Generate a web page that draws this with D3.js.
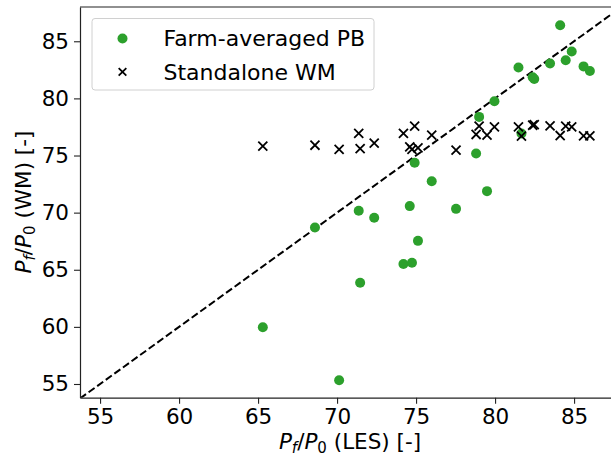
<!DOCTYPE html>
<html>
<head>
<meta charset="utf-8">
<script src="https://cdn.jsdelivr.net/npm/d3@7"></script>
<style>
  body { margin: 0; background: #fff; }
  text { font-family: "DejaVu Sans", sans-serif; }
</style>
</head>
<body>
<div id="chart"></div>
<script>
(function () {

// LES value (shared x) for each case
const les = [65.3, 68.6, 70.13, 71.37, 71.46, 72.35, 74.2, 74.6, 74.74, 74.91, 75.12,
  75.99, 77.53, 78.8, 78.99, 79.49, 79.96, 81.48, 81.67, 82.38, 82.48, 83.48,
  84.12, 84.47, 84.85, 85.6, 86.0];

// farm-averaged PB model (green dots)
const farmPB = [59.96, 68.7, 55.32, 70.16, 63.86, 69.55, 65.5, 70.57, 65.61, 74.36, 67.53,
  72.75, 70.33, 75.18, 78.38, 71.88, 79.75, 82.7, 76.93, 81.85, 81.7, 83.05,
  86.4, 83.34, 84.1, 82.8, 82.4];

// standalone wake model (black crosses)
const standaloneWM = [75.82, 75.9, 75.53, 76.93, 75.6, 76.08, 76.93, 75.76, 75.53, 77.57, 75.67,
  76.78, 75.47, 76.84, 77.57, 76.78, 77.5, 77.5, 76.69, 77.65, 77.7, 77.6,
  76.75, 77.57, 77.5, 76.72, 76.72];

const xTicks = [55, 60, 65, 70, 75, 80, 85];
const yTicks = [55, 60, 65, 70, 75, 80, 85];
const legendLabels = ["Farm-averaged PB", "Standalone WM"];

const green = "#2ca02c";
const fontSize = 21.5;

// margins, axes box is about 532 x 391
const margin = {top: 7, right: -1, bottom: 58, left: 80};
const width = 611 - margin.left - margin.right,
      height = 456 - margin.top - margin.bottom - 0.3;

const svg = d3.select("#chart").append("svg")
    .attr("width", 611)
    .attr("height", 456)
  .append("g")
    .attr("transform", "translate(" + margin.left + "," + margin.top + ")");

const x = d3.scaleLinear().domain([53.73, 87.4]).range([0, width]);
const y = d3.scaleLinear().domain([53.8, 88.0]).range([height, 0]);

svg.append("clipPath").attr("id", "clip")
  .append("rect").attr("width", width).attr("height", height);

// dashed y = x line
svg.append("line")
    .attr("clip-path", "url(#clip)")
    .attr("x1", x(53.73)).attr("y1", y(53.73))
    .attr("x2", x(88)).attr("y2", y(88))
    .attr("stroke", "#000")
    .attr("stroke-width", 2)
    .attr("stroke-dasharray", "7.4,3.2");

// green dots
svg.append("g")
  .selectAll("circle")
  .data(les)
  .join("circle")
    .attr("cx", d => x(d))
    .attr("cy", (d, i) => y(farmPB[i]))
    .attr("r", 5)
    .attr("fill", green);

// crosses
const cross = d3.symbol(d3.symbolTimes).size(55);
svg.append("g")
  .selectAll("path")
  .data(les)
  .join("path")
    .attr("transform", (d, i) => `translate(${x(d)},${y(standaloneWM[i])})`)
    .attr("d", cross)
    .attr("fill", "none")
    .attr("stroke", "#000")
    .attr("stroke-width", 1.8);

// axes
const xAxis = svg.append("g")
    .attr("transform", `translate(0,${height})`)
    .call(d3.axisBottom(x).tickValues(xTicks).tickSize(6).tickPadding(5).tickSizeOuter(0));
const yAxis = svg.append("g")
    .call(d3.axisLeft(y).tickValues(yTicks).tickSize(6).tickPadding(5).tickSizeOuter(0));

[xAxis, yAxis].forEach(g => {
  g.selectAll("text").attr("font-size", fontSize).attr("font-family", "DejaVu Sans").attr("fill", "#000");
  g.selectAll("line").attr("stroke", "#222").attr("stroke-width", 1.1);
  g.select(".domain").attr("stroke", "#222").attr("stroke-width", 1.2);
});
xAxis.selectAll("text").attr("dy", "0.72em");

// top spine
svg.append("line")
    .attr("x1", 0).attr("x2", width)
    .attr("y1", 0).attr("y2", 0)
    .attr("stroke", "#222").attr("stroke-width", 1.2);

// axis labels with P_f/P_0 math text
function mathLabel(sel, tail) {
  sel.append("tspan").attr("font-style", "italic").text("P");
  sel.append("tspan").attr("font-style", "italic").attr("font-size", 15).attr("dy", 4).text("f");
  sel.append("tspan").attr("dy", -4).text("/");
  sel.append("tspan").attr("font-style", "italic").text("P");
  sel.append("tspan").attr("font-size", 15).attr("dy", 4).text("0");
  sel.append("tspan").attr("dy", -4).text(tail);
}

svg.append("text")
    .attr("x", width / 2 + 4)
    .attr("y", height + 51)
    .attr("text-anchor", "middle")
    .attr("font-size", fontSize)
    .call(mathLabel, " (LES) [-]");

svg.append("text")
    .attr("transform", `translate(${31 - margin.left},${195}) rotate(-90)`)
    .attr("text-anchor", "middle")
    .attr("font-size", fontSize)
    .call(mathLabel, " (WM) [-]");

// legend
const legend = svg.append("g").attr("transform", "translate(12,11.5)");
legend.append("rect")
    .attr("width", 282).attr("height", 71.5)
    .attr("rx", 3)
    .attr("fill", "#fff").attr("fill-opacity", 0.8)
    .attr("stroke", "#d0d0d0").attr("stroke-width", 1);

const rows = legend.selectAll("g.row")
  .data(legendLabels)
  .join("g")
    .attr("class", "row")
    .attr("transform", (d, i) => `translate(0,${20 + i * 33.4})`);

rows.filter((d, i) => i === 0).append("circle")
    .attr("cx", 30.5).attr("r", 5).attr("fill", green);
rows.filter((d, i) => i === 1).append("path")
    .attr("transform", "translate(30.5,0)")
    .attr("d", d3.symbol(d3.symbolTimes).size(40))
    .attr("fill", "none").attr("stroke", "#000").attr("stroke-width", 1.8);

rows.append("text")
    .attr("x", 71.5)
    .attr("dy", "0.36em")
    .attr("font-size", fontSize + 0.5)
    .text(d => d);

})()
</script>
</body>
</html>
